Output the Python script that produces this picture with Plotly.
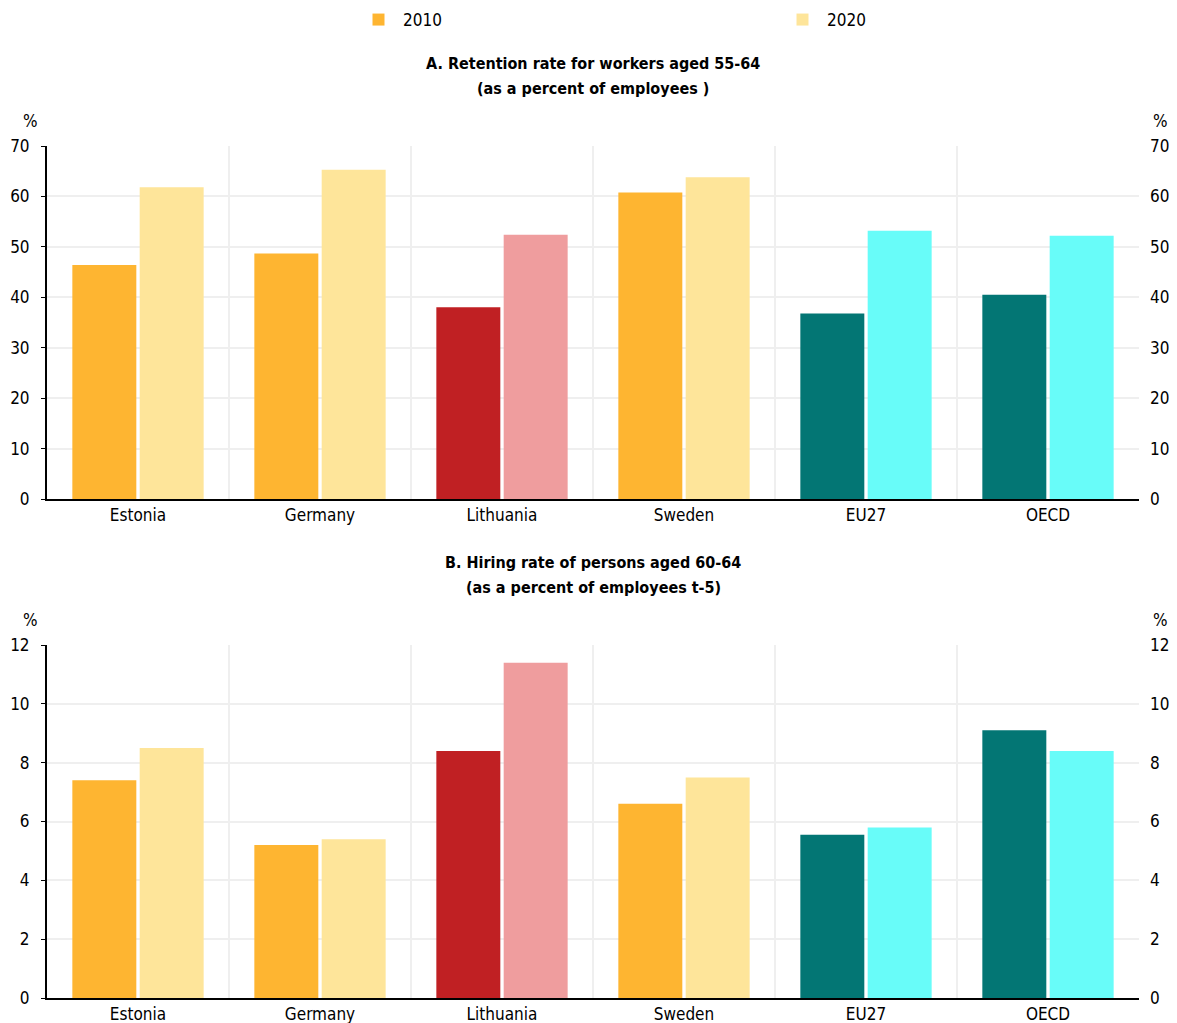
import plotly.graph_objects as go

categories = ["Estonia", "Germany", "Lithuania", "Sweden", "EU27", "OECD"]
series_names = ["2010", "2020"]

retention_2010 = [46.4, 48.7, 38.0, 60.8, 36.8, 40.5]
retention_2020 = [61.8, 65.3, 52.4, 63.8, 53.2, 52.2]

hiring_2010 = [7.4, 5.2, 8.4, 6.6, 5.55, 9.1]
hiring_2020 = [8.5, 5.4, 11.4, 7.5, 5.8, 8.4]

colors_2010 = ["#FEB531", "#FEB531", "#C02023", "#FEB531", "#037674", "#037674"]
colors_2020 = ["#FEE59A", "#FEE59A", "#EF9D9E", "#FEE59A", "#68FCF9", "#68FCF9"]

title_a = ["<b>A. Retention rate for workers aged 55-64</b>", "<b>(as a percent of employees )</b>"]
title_b = ["<b>B. Hiring rate of persons aged 60-64</b>", "<b>(as a percent of employees t-5)</b>"]

FONT = "Liberation Sans Narrow, Arial Narrow, DejaVu Sans Condensed, Liberation Sans, Arial, sans-serif"
OFF = 8  # page body margin
W, H = 1177 - OFF, 1023 - OFF
GRID = "#EFEFEF"

def px_x(p):
    return (p - OFF) / W

def px_y(p):
    return 1 - (p - OFF) / H

x_dom = [px_x(47), px_x(1139)]
a_dom = [px_y(499), px_y(146)]
b_dom = [px_y(998), px_y(645)]

fig = go.Figure()
fig.add_trace(go.Bar(x=categories, y=retention_2010, name=series_names[0], marker=dict(color=colors_2010, line=dict(width=0)),
                     xaxis="x", yaxis="y", legendgroup="2010"))
fig.add_trace(go.Bar(x=categories, y=retention_2020, name=series_names[1], marker=dict(color=colors_2020, line=dict(width=0)),
                     xaxis="x", yaxis="y", legendgroup="2020"))
fig.add_trace(go.Bar(x=categories, y=hiring_2010, name=series_names[0], marker=dict(color=colors_2010, line=dict(width=0)),
                     xaxis="x2", yaxis="y3", legendgroup="2010", showlegend=False))
fig.add_trace(go.Bar(x=categories, y=hiring_2020, name=series_names[1], marker=dict(color=colors_2020, line=dict(width=0)),
                     xaxis="x2", yaxis="y3", legendgroup="2020", showlegend=False))

# invisible traces to register the right-hand axes
fig.add_trace(go.Scatter(x=categories, y=retention_2010, yaxis="y2", xaxis="x", mode="markers",
                         marker=dict(opacity=0), showlegend=False, hoverinfo="skip"))
fig.add_trace(go.Scatter(x=categories, y=hiring_2010, yaxis="y4", xaxis="x2", mode="markers",
                         marker=dict(opacity=0), showlegend=False, hoverinfo="skip"))

tf = dict(size=17, family=FONT, color="black")
xcommon = dict(domain=x_dom, type="category", tickson="boundaries", showgrid=True, gridcolor=GRID, gridwidth=2,
               showline=True, linecolor="black", linewidth=2, ticks="", tickfont=tf, automargin=False)
yleft = dict(showgrid=True, gridcolor=GRID, gridwidth=2, showline=True, linecolor="black", linewidth=2,
             ticks="outside", ticklen=4, tickcolor="black", tickfont=tf,
             zeroline=False, ticklabelstandoff=8, automargin=False)
yright = dict(showgrid=False, showline=False, ticks="", tickfont=tf,
              zeroline=False, side="right", ticklabelstandoff=10, automargin=False)

fig.update_layout(
    width=W, height=H,
    margin=dict(l=0, r=0, t=0, b=0, autoexpand=False),
    paper_bgcolor="white", plot_bgcolor="white",
    barmode="group", bargap=0.26, bargroupgap=0.05,
    font=dict(family=FONT, size=17, color="black"),
    xaxis=dict(anchor="y", **xcommon),
    xaxis2=dict(anchor="y3", **xcommon),
    yaxis=dict(domain=a_dom, anchor="x", range=[0, 70], dtick=10, **yleft),
    yaxis2=dict(domain=a_dom, anchor="x", overlaying="y", range=[0, 70], dtick=10, **yright),
    yaxis3=dict(domain=b_dom, anchor="x2", range=[0, 12], dtick=2, **yleft),
    yaxis4=dict(domain=b_dom, anchor="x2", overlaying="y3", range=[0, 12], dtick=2, **yright),
    legend=dict(orientation="h", x=px_x(354), xanchor="left", y=px_y(20), yanchor="middle",
                font=dict(size=17, family=FONT), entrywidth=370, itemwidth=39, traceorder="normal"),
    showlegend=True,
)

afont = dict(size=17, family=FONT, color="black")
tfont = dict(size=16, family=FONT, color="black")
def note(text, x, y, font):
    return dict(text=text, x=px_x(x), y=px_y(y), xref="paper", yref="paper", showarrow=False,
                xanchor="center", yanchor="middle", font=font)

ann = [
    note(title_a[0], 593, 63, tfont),
    note(title_a[1], 593, 88, tfont),
    note(title_b[0], 593, 562, tfont),
    note(title_b[1], 593, 587, tfont),
    note("%", 30, 121, afont),
    note("%", 1160, 121, afont),
    note("%", 30, 620, afont),
    note("%", 1160, 620, afont),
]
fig.update_layout(annotations=ann)

fig.write_html("out.html")
